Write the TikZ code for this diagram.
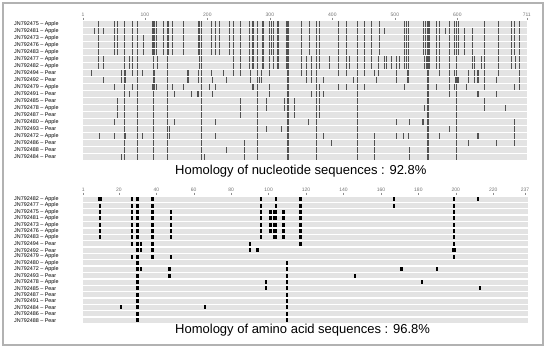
\documentclass[tikz,border=0pt]{standalone}
\usepackage{fontspec}
\setmainfont{Liberation Sans}
\usetikzlibrary{positioning}

\begin{document}
\begin{tikzpicture}[x=1pt, y=-1pt,
  seqlab/.style={font=\fontsize{5.4}{6}\selectfont, anchor=west, inner sep=0pt},
  axnum/.style={font=\fontsize{5}{6}\selectfont, text=black!55, inner sep=0pt},
  axtick/.style={draw=black!45, line width=0.4pt},
  band/.style={fill=black!11},
  snp/.style={fill=black!68},
  aa/.style={fill=black},
  headline/.style={font=\fontsize{13}{15}\selectfont, anchor=west, inner sep=0pt}]
\useasboundingbox (0,0) rectangle (550,349);
\draw[black!30, line width=1.2pt] (3,3) rectangle (543,345);

% nucleotide panel
\foreach \lab [count=\i from 0] in {JN792475 – Apple, JN792481 – Apple, JN792473 – Apple, JN792476 – Apple, JN792483 – Apple, JN792477 – Apple, JN792482 – Apple, JN792494 – Pear, JN792492 – Pear, JN792479 – Apple, JN792491 – Pear, JN792485 – Pear, JN792478 – Apple, JN792487 – Pear, JN792480 – Apple, JN792493 – Pear, JN792472 – Apple, JN792486 – Pear, JN792488 – Pear, JN792484 – Pear} {
  \node[seqlab] (nt\i) at (14,24+7*\i) {\lab};
  \fill[band] (83,21+7*\i) rectangle (527,27+7*\i);
}
\begin{scope}[shift={(82.375,0)}, x=0.625pt]
\foreach \q in {1,100,200,300,400,500,600,711} {
  \node[axnum] (nta\q) at (\q,14.5) {\q};
  \draw[axtick] (\q,17.5) -- (\q,19.5);
}
\foreach \q in {67,88,114,136,190,280,329,374,440,553,599}
  \foreach \i in {0,...,19}
    \fill[snp] (\q-0.9,21+7*\i) rectangle (\q+0.9,27+7*\i);
\foreach \i/\qs in {
  0/{26,51,56,80,113,116,119,130,138,144,162,186,188,206,213,220,235,242,253,268,273,289,299,302,306,313,327,350,364,379,410,422,452,463,476,515,518,522,546,549,556,567,572,588,596,602,644,666,686,692,700},
  1/{19,26,34,51,56,80,113,116,119,130,138,144,162,186,188,206,213,220,235,242,253,268,273,289,299,302,306,313,327,350,364,379,410,422,452,463,476,484,515,518,522,546,549,556,567,572,581,588,596,602,612,624,644,666,686,692,700},
  2/{26,51,56,80,98,113,116,119,130,138,144,162,186,188,206,213,220,235,242,253,268,273,289,299,302,306,313,327,350,364,379,410,422,452,463,476,515,518,522,546,549,556,567,572,588,596,602,612,624,644,666,686,692,700},
  3/{26,51,56,80,98,113,116,119,130,138,144,162,186,188,206,213,220,235,242,253,268,273,289,299,302,306,313,327,350,364,379,410,422,452,463,476,515,518,522,546,549,556,567,572,588,596,602,612,624,644,666,686,692,700},
  4/{26,51,56,80,98,113,116,119,130,138,144,162,186,188,206,213,220,235,242,253,268,273,289,299,302,306,313,327,350,364,379,410,422,452,463,476,515,518,522,546,549,556,567,572,588,596,602,612,624,644,666,686,692,700},
  5/{26,34,76,80,120,187,242,253,268,273,289,300,306,313,326,350,359,366,379,395,410,422,427,452,463,474,484,486,495,503,508,515,519,522,548,551,556,567,572,588,624,627,639,644,666,686,693,700},
  6/{26,34,76,80,120,187,242,253,268,273,289,300,306,313,326,350,359,366,379,395,410,422,427,452,463,474,484,486,495,503,508,515,519,522,548,551,556,567,572,588,624,627,639,644,666,686,693,700},
  7/{15,63,69,80,96,116,169,186,206,226,242,253,269,287,300,350,359,366,410,422,452,467,474,503,521,572,588,596,618,627,633,644,666,699},
  8/{34,63,69,116,169,186,208,231,269,283,287,359,366,386,434,470,503,521,587,597,601,618,627,633,644,663,699},
  9/{51,80,113,116,119,144,162,204,213,273,299,379,410,422,452,515,566,587,596,615,644,692,699},
  10/{75,147,175,185,208,299,366,379,386,587,633,663},
  11/{56,253,294,323,340,379,644},
  12/{56,253,294,323,340,379,547,644,677},
  13/{56,253,340,379},
  14/{51,147,213,362,503,524,545,692},
  15/{140,295,319,587,692},
  16/{27,51,69,96,140,213,386,468,503,514,522,571,633,692},
  17/{259,399,468,618,663,692},
  18/{231,259,468,524},
  19/{63,196,259,468,524}}
  \foreach \q in \qs
    \fill[snp] (\q-0.9,21+7*\i) rectangle (\q+0.9,27+7*\i);
\end{scope}
\node[headline] (nttitle) at (175,171) {Homology of nucleotide sequences : 92.8\%};

% amino acid panel
\foreach \lab [count=\i from 0] in {JN792482 – Apple, JN792477 – Apple, JN792475 – Apple, JN792481 – Apple, JN792473 – Apple, JN792476 – Apple, JN792483 – Apple, JN792494 – Pear, JN792492 – Pear, JN792479 – Apple, JN792480 – Apple, JN792472 – Apple, JN792493 – Pear, JN792478 – Apple, JN792485 – Pear, JN792487 – Pear, JN792491 – Pear, JN792484 – Pear, JN792486 – Pear, JN792488 – Pear} {
  \node[seqlab] (aa\i) at (14,199.2+6.37*\i) {\lab};
  \fill[band] (83,196.7+6.37*\i) rectangle (527.5,201.7+6.37*\i);
}
\begin{scope}[shift={(81.43,0)}, x=1.872pt]
\foreach \p in {1,20,40,...,220,237} {
  \node[axnum] (aaa\p) at (\p,189.5) {\p};
  \draw[axtick] (\p,192.5) -- (\p,194.5);
}
\foreach \i/\ps in {
  0/{27,30,38,96,104,117,167,199,212},
  1/{10,27,30,38,96,104,117,167,199},
  2/{10,27,30,38,48,96,101,108,117,199},
  3/{10,27,30,38,48,96,101,108,117,199},
  4/{10,27,30,38,48,96,101,108,117,199},
  5/{10,27,30,38,48,96,101,108,117,199},
  6/{10,27,30,38,48,96,108,117,199},
  7/{27,30,32,38,90,117,199},
  8/{30,32,38,90,94},
  9/{27,30,38,48,199},
  10/{30,110},
  11/{30,32,47,110,171,190},
  12/{30,47,110,146},
  13/{30,98.5,110,182},
  14/{30,98.5,110,213},
  15/{30,110},
  16/{30,110},
  17/{21,30,66,110},
  18/{30,110},
  19/{30,110}}
  \foreach \p in \ps
    \fill[aa] (\p-0.6,197.2+6.37*\i) rectangle (\p+0.6,201.2+6.37*\i);
% wider blocks
\foreach \p/\i in {10/0,199/8,103.5/2,103.5/3,103.5/4,103.5/5,103.5/6}
  \fill[aa] (\p-1.2,197.2+6.37*\i) rectangle (\p+1.2,201.2+6.37*\i);
\end{scope}
\node[headline] (aatitle) at (175,330) {Homology of amino acid sequences : 96.8\%};
\end{tikzpicture}
\end{document}
